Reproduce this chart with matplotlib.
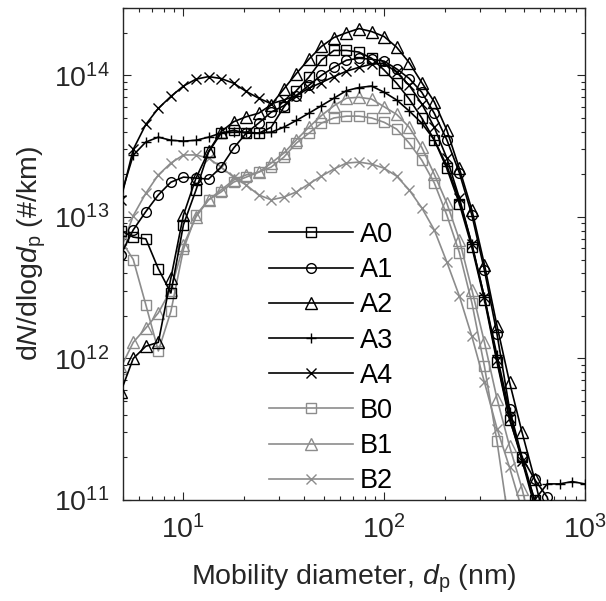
import numpy as np
import matplotlib
matplotlib.use("Agg")
import matplotlib.pyplot as plt

plt.rcParams['font.family'] = ['Liberation Sans', 'DejaVu Sans']
plt.rcParams['mathtext.fontset'] = 'custom'
plt.rcParams['mathtext.rm'] = 'Liberation Sans'
plt.rcParams['mathtext.it'] = 'Liberation Sans:italic'

# mobility diameters (nm), 16 channels per decade
dp = [4.870, 5.623, 6.494, 7.499, 8.660, 10.0, 11.55, 13.34, 15.40, 17.78,
      20.54, 23.71, 27.38, 31.62, 36.52, 42.17, 48.70, 56.23, 64.94, 74.99,
      86.60, 100.0, 115.5, 133.4, 154.0, 177.8, 205.4, 237.1, 273.8, 316.2,
      365.2, 421.7, 487.0, 562.3, 649.4, 749.9, 866.0, 1000.0]

# dN/dlogdp in units of 1e12 #/km
A0 = [8.0, 7.2, 7.0, 4.3, 2.9, 8.8, 15.5, 28.7, 39, 41, 39, 39, 43, 59.5, 78,
      97, 128, 150, 150, 146, 132, 109, 88, 68, 50, 35, 22, 12.4, 6.1, 2.6,
      0.94, 0.37, 0.2, 0.1, 0.05]
A1 = [5.4, 8.1, 10.9, 14.3, 17.6, 19.1, 18.8, 18.5, 22.5, 30.6, 39, 46, 55, 61,
      72, 85, 100, 114, 128, 132, 130, 126, 111, 95, 76, 54, 35, 20.5, 10.3,
      4.2, 1.49, 0.44, 0.2, 0.14, 0.105, 0.05]
A2 = [0.58, 1.0, 1.22, 1.3, 3.7, 10.3, 18.8, 29, 40, 47, 51, 54, 62, 80, 103,
      130, 160, 185, 200, 214, 204, 188, 158, 123, 89, 65, 41, 22, 11.2, 4.6,
      1.7, 0.68, 0.30, 0.14, 0.06]
A3 = [14, 27.3, 33.8, 36.6, 34.8, 34.3, 34.8, 36.6, 39.1, 39.7, 39.7, 39.1,
      39.7, 43, 48, 54, 61, 69, 78, 82, 84, 76, 67, 56, 46, 35, 23, 13.2, 6.4,
      2.7, 1.05, 0.42, 0.19, 0.1, 0.13, 0.13, 0.135, 0.13]
A4 = [13.2, 30, 45, 58.5, 71, 84, 94, 98, 95, 88, 77, 69, 63, 67, 72, 81, 89,
      98, 107, 114, 120, 122, 105, 85, 63, 43, 26, 13.6, 6.4, 2.7, 0.98, 0.38,
      0.19, 0.09]
B0 = [6.9, 5.0, 2.4, 1.13, 2.15, 5.9, 10.3, 13.2, 15, 17.6, 19.1, 20.7, 22.5,
      26.4, 33.2, 39, 46, 50, 51.5, 51.5, 50, 46.6, 41.7, 33.2, 25.2, 17.4,
      10.3, 5.6, 2.47, 0.88, 0.26, 0.064]
B1 = [0.86, 1.3, 1.64, 2.1, 3.06, 6.3, 10, 13.2, 15.5, 18.2, 19.8, 20.7, 24,
      28.2, 35, 43, 52, 61, 69, 70, 68, 60, 53, 43, 31, 20, 12.5, 6.9, 3.06,
      1.3, 0.52, 0.24, 0.12, 0.05]
B2 = [5.9, 10.2, 14.7, 19.8, 24, 27.4, 27.4, 26, 22.5, 19.1, 16.8, 14.3, 13.2,
      13.8, 15, 17.1, 19.4, 21.8, 24, 24.4, 23.6, 22.1, 19.4, 15.5, 11.6, 8.1,
      4.8, 2.76, 1.43, 0.68, 0.32, 0.17, 0.085]

labels = ['A0', 'A1', 'A2', 'A3', 'A4', 'B0', 'B1', 'B2']
series = [A0, A1, A2, A3, A4, B0, B1, B2]
markers = ['s', 'o', '^', '+', 'x', 's', '^', 'x']
colors = ['black'] * 5 + ['#8c8c8c'] * 3

fig = plt.figure(figsize=(6.06, 6.01), dpi=100)
ax = fig.add_axes([0.203, 0.168, 0.762, 0.819])

for lab, vals, m, c in zip(labels, series, markers, colors):
    x = np.array(dp[:len(vals)])
    y = np.array(vals) * 1e12
    z = 3 if c == 'black' else 2
    ms = 8.5 if m == '^' else 7
    ax.plot(x, y, color=c, marker=m, mfc='none', mec=c, ms=ms, mew=1.0,
            lw=1.2, label=lab, zorder=z)

ax.set_xscale('log')
ax.set_yscale('log')
ax.set_xlim(5, 1000)
ax.set_ylim(1e11, 3e14)

ax.set_xlabel(r'Mobility diameter, $d_\mathrm{p}$ (nm)', fontsize=20.5, color='#262626')
ax.set_ylabel(r'd$N$/dlog$d_\mathrm{p}$ (#/km)', fontsize=20.5, color='#262626')
ax.xaxis.set_label_coords(0.5, -0.128)
ax.yaxis.set_label_coords(-0.162, 0.5)

ax.tick_params(which='both', direction='in', top=True, right=True,
               colors='#262626', labelsize=20.5, width=0.8)
ax.tick_params(which='major', length=6)
ax.tick_params(which='minor', length=3)
ax.tick_params(axis='x', which='major', pad=11)
ax.tick_params(axis='y', which='major', pad=10)
for s in ax.spines.values():
    s.set_color('#262626')
    s.set_linewidth(1.0)

ax.legend(loc='upper left', bbox_to_anchor=(0.316, 0.565), frameon=False,
          fontsize=19.5, handlelength=3.1, handletextpad=0.25, labelspacing=0.34,
          borderpad=0, borderaxespad=0)

fig.savefig('out.png', dpi=100)
